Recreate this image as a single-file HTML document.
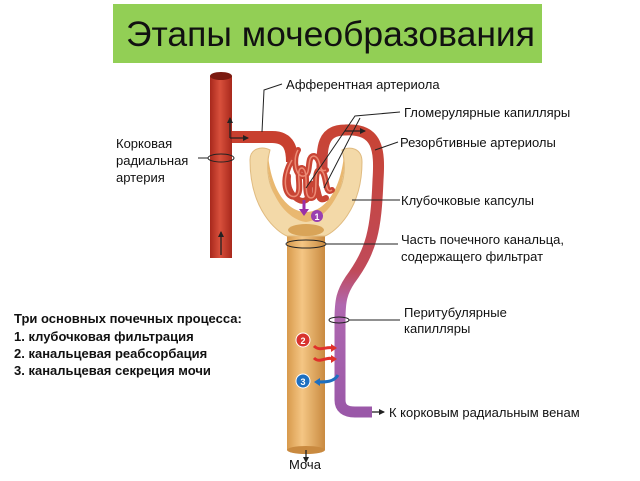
<!DOCTYPE html>
<html><head><meta charset="utf-8"><style>
body{margin:0;background:#fff;}
svg{display:block;font-family:"Liberation Sans",sans-serif;}
</style></head><body>
<svg width="640" height="481" viewBox="0 0 640 481" xmlns="http://www.w3.org/2000/svg">
<defs>
<linearGradient id="art" x1="0" x2="1"><stop offset="0" stop-color="#a8281c"/><stop offset=".45" stop-color="#d8503c"/><stop offset="1" stop-color="#a8281c"/></linearGradient>
<linearGradient id="tub" x1="0" x2="1"><stop offset="0" stop-color="#d89a4c"/><stop offset=".4" stop-color="#f4c684"/><stop offset="1" stop-color="#c98a40"/></linearGradient>
<linearGradient id="eff" x1="0" y1="0" x2="0" y2="1"><stop offset="0" stop-color="#c84434"/><stop offset=".5" stop-color="#c04a5a"/><stop offset=".62" stop-color="#b068b0"/><stop offset="1" stop-color="#9a58a8"/></linearGradient>
<marker id="ah" markerWidth="6" markerHeight="6" refX="5" refY="3" orient="auto" markerUnits="userSpaceOnUse"><path d="M0,0L6,3L0,6z" fill="#222"/></marker>
</defs>
<rect x="113" y="4" width="429" height="59" fill="#92cf55"/>
<text x="126" y="46" font-size="35.5" fill="#111">Этапы мочеобразования</text>

<rect x="287" y="232" width="38" height="218" fill="url(#tub)"/>
<ellipse cx="306" cy="450" rx="19" ry="4" fill="#c98a40"/>
<path d="M250,160 C250,148 262,146 270,150 C262,180 275,210 306,214 C337,210 350,180 342,150 C350,146 362,148 362,162 C362,210 335,232 325,236 L287,236 C277,232 250,210 250,160z" fill="#f3d9a8" stroke="#e0bb80" stroke-width="1"/>
<path d="M268,155 C265,195 288,220 306,222 C324,220 347,195 344,155 C340,195 322,212 306,212 C290,212 272,195 268,155z" fill="#e9b870"/>
<ellipse cx="306" cy="230" rx="18" ry="6" fill="#d9a458"/>

<rect x="210" y="76" width="22" height="182" fill="url(#art)"/>
<ellipse cx="221" cy="76" rx="11" ry="4" fill="#7a1a10"/>
<path d="M232,137 L272,137 C290,137 292,150 292,162" stroke="#c8402f" stroke-width="12" fill="none"/>
<path d="M322,168 C322,148 322,130 345,130 C378,128 380,150 378,180 C376,230 372,250 350,280 C342,292 340,300 340,320 L340,400 C340,408 345,412 355,412 L372,412" stroke="url(#eff)" stroke-width="11" fill="none"/>
<g stroke="#c84434" stroke-width="6" fill="none" stroke-linecap="round">
<path d="M292,160 C280,180 286,200 296,196 C304,192 294,168 302,168 C310,170 302,198 311,198 C320,198 312,170 320,170 C328,172 324,196 332,190"/>
<path d="M288,176 C286,194 300,204 306,200 C312,196 306,182 314,184 C320,188 316,204 326,198"/>
<path d="M298,150 C292,160 296,178 304,176 C312,174 306,156 314,156 C322,158 318,174 326,170"/>
</g>
<g stroke="#ec8a74" stroke-width="1.5" fill="none">
<path d="M292,160 C280,180 286,200 296,196 C304,192 294,168 302,168 C310,170 302,198 311,198 C320,198 312,170 320,170 C328,172 324,196 332,190"/>
<path d="M298,150 C292,160 296,178 304,176 C312,174 306,156 314,156 C322,158 318,174 326,170"/>
</g>
<g stroke="#222" stroke-width="1.3" fill="none" marker-end="url(#ah)">
<line x1="230" y1="138" x2="230" y2="118"/>
<line x1="230" y1="138" x2="248" y2="138"/>
<line x1="221" y1="255" x2="221" y2="232"/>
<line x1="345" y1="131" x2="365" y2="131"/>
<line x1="306" y1="450" x2="306" y2="462"/>
<line x1="372" y1="412" x2="384" y2="412"/>
</g>
<line x1="304" y1="200" x2="304" y2="210" stroke="#9a2fa8" stroke-width="3"/>
<path d="M299,209 L309,209 L304,216z" fill="#9a2fa8"/>
<circle cx="317" cy="216" r="6" fill="#9a3fb0"/><text x="317" y="220" font-size="9" fill="#fff" text-anchor="middle" font-weight="bold">1</text>
<circle cx="303" cy="340" r="7" fill="#d8332e" stroke="#fff"/><text x="303" y="344" font-size="9" fill="#fff" text-anchor="middle" font-weight="bold">2</text>
<circle cx="303" cy="381" r="7" fill="#1e6fc0" stroke="#fff"/><text x="303" y="385" font-size="9" fill="#fff" text-anchor="middle" font-weight="bold">3</text>
<g stroke-width="3" fill="none">
<path d="M314,346 C320,352 326,346 333,348" stroke="#e0302a"/>
<path d="M314,358 C320,364 326,356 333,359" stroke="#e0302a"/>
<path d="M338,375 C334,382 326,382 318,382" stroke="#1e6fc0"/>
</g>
<path d="M331,344 L337,348 L331,352z M331,355 L337,359 L331,363z" fill="#e0302a"/>
<path d="M320,378 L314,382 L320,386z" fill="#1e6fc0"/>

<g stroke="#222" stroke-width="1" fill="none">
<path d="M262,132 L264,90 L282,84"/>
<ellipse cx="221" cy="158" rx="13" ry="4"/>
<line x1="198" y1="158" x2="208" y2="158"/>
<path d="M306,188 L355,116 L400,112"/>
<path d="M324,188 L360,118"/>
<path d="M375,150 L398,142"/>
<line x1="352" y1="200" x2="400" y2="200"/>
<ellipse cx="306" cy="244" rx="20" ry="4"/>
<line x1="326" y1="244" x2="398" y2="244"/>
<ellipse cx="339" cy="320" rx="10" ry="3"/>
<line x1="349" y1="320" x2="400" y2="320"/>
</g>

<g font-size="13" fill="#111">
<text x="286" y="89">Афферентная артериола</text>
<text x="404" y="117">Гломерулярные капилляры</text>
<text x="400" y="147">Резорбтивные артериолы</text>
<text x="401" y="205">Клубочковые капсулы</text>
<text x="401" y="244">Часть почечного канальца,</text>
<text x="401" y="261">содержащего фильтрат</text>
<text x="404" y="317">Перитубулярные</text>
<text x="404" y="333">капилляры</text>
<text x="389" y="417">К корковым радиальным венам</text>
<text x="289" y="469">Моча</text>
<text x="116" y="148">Корковая</text>
<text x="116" y="165">радиальная</text>
<text x="116" y="182">артерия</text>
</g>
<g font-size="13" fill="#111" font-weight="bold">
<text x="14" y="323">Три основных почечных процесса:</text>
<text x="14" y="341">1. клубочковая фильтрация</text>
<text x="14" y="358">2. канальцевая реабсорбация</text>
<text x="14" y="375">3. канальцевая секреция мочи</text>
</g>
</svg>
</body></html>
